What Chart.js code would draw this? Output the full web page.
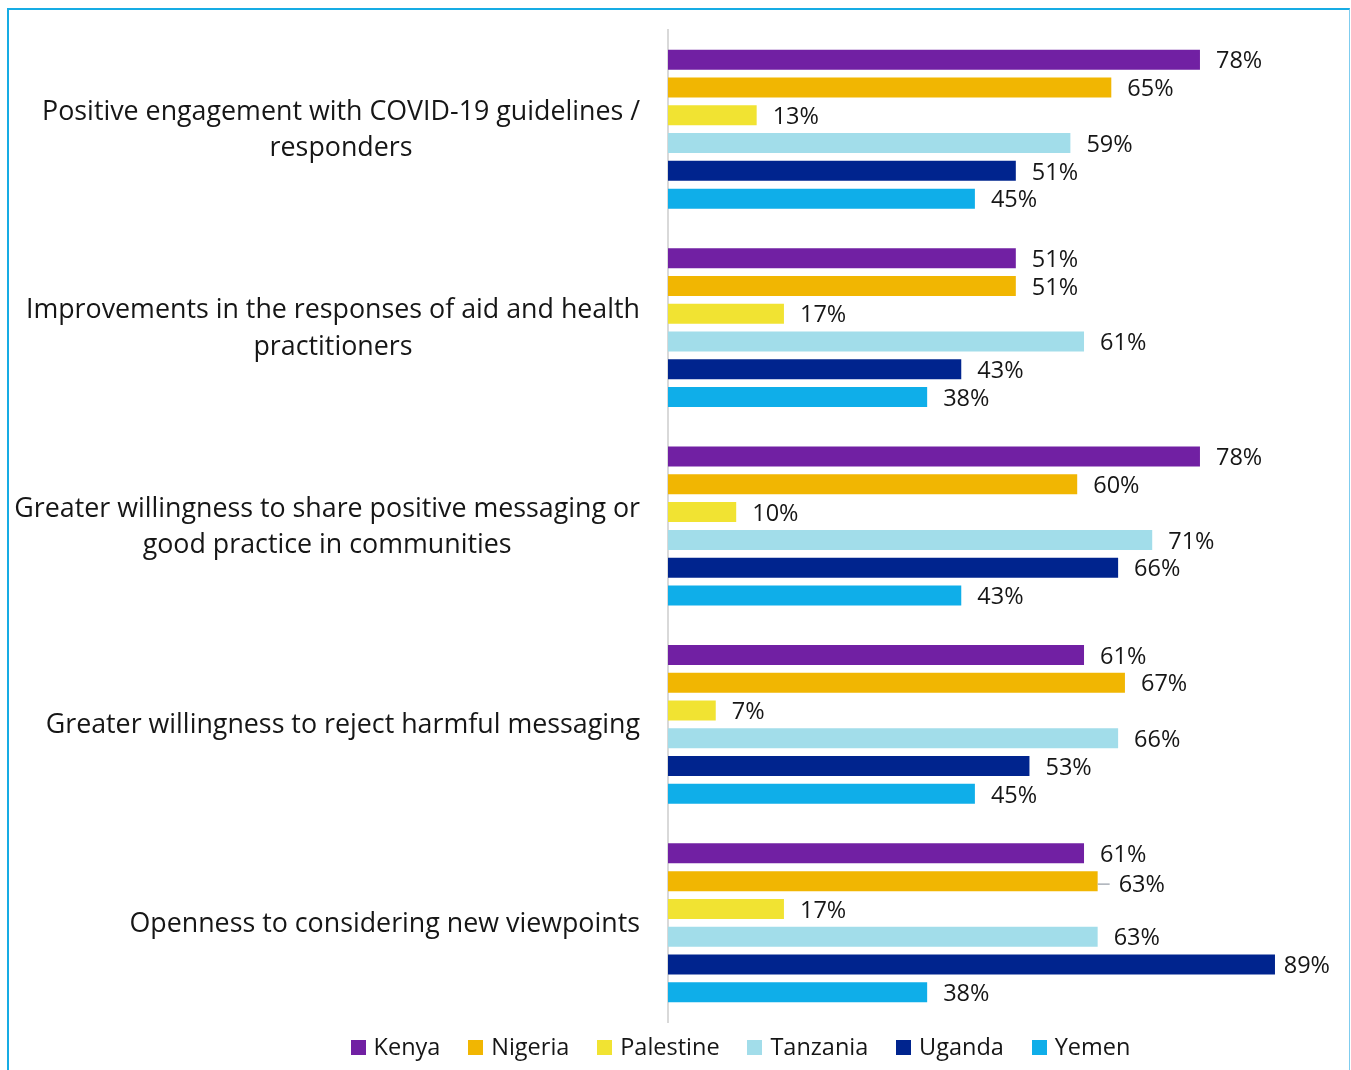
<!DOCTYPE html>
<html>
<head>
<meta charset="utf-8">
<title>Reported changes by country</title>
<script src="https://cdn.jsdelivr.net/npm/chart.js@4.4.1/dist/chart.umd.min.js"></script>
<style>
  html, body { margin: 0; padding: 0; background: #ffffff; overflow: hidden; }
  #wrap { position: relative; width: 1351px; height: 1070px; }
  #c { position: absolute; left: 0; top: 0; }
  #frame {
    position: absolute; left: 7px; top: 8px; width: 1343px; height: 1300px;
    box-sizing: border-box; border: 2px solid #17ACE4; border-right: 1px solid #7fcdef;
    pointer-events: none;
  }
</style>
</head>
<body>
<div id="wrap">
  <canvas id="c" width="1351" height="1070"></canvas>
  <div id="frame"></div>
</div>
<script>
// Outcome categories (each entry is the list of lines for a wrapped label)
const categories = [
  ['Positive engagement with COVID-19 guidelines /', 'responders'],
  ['Improvements in the responses of aid and health', 'practitioners'],
  ['Greater willingness to share positive messaging or', 'good practice in communities'],
  ['Greater willingness to reject harmful messaging'],
  ['Openness to considering new viewpoints']
];

// Countries (series names)
const countries = ['Kenya', 'Nigeria', 'Palestine', 'Tanzania', 'Uganda', 'Yemen'];

// Percentage of respondents, one value per category
const kenya     = [78, 51, 78, 61, 61];
const nigeria   = [65, 51, 60, 67, 63];
const palestine = [13, 17, 10, 7, 17];
const tanzania  = [59, 61, 71, 66, 63];
const uganda    = [51, 43, 66, 53, 89];
const yemen     = [45, 38, 43, 45, 38];

const seriesValues = [kenya, nigeria, palestine, tanzania, uganda, yemen];
const seriesColours = ['#7120A3', '#F1B602', '#F1E332', '#A2DDEA', '#00248E', '#0FAEE9'];

const FONT = "'Open Sans', 'Noto Sans', sans-serif";
const TEXT_COLOUR = '#161616';

// Wrapped category labels, right-aligned as a block, lines centred within the block
const categoryLabels = {
  id: 'categoryLabels',
  afterDraw(chart) {
    const { ctx } = chart;
    const y = chart.scales.y;
    const size = 26.8, lineH = 36.5, rightEdge = 640;
    ctx.save();
    ctx.font = `${size}px ${FONT}`;
    ctx.fillStyle = TEXT_COLOUR;
    ctx.textAlign = 'center';
    ctx.textBaseline = 'alphabetic';
    categories.forEach((lines, i) => {
      const cy = y.getPixelForValue(i);
      const widest = Math.max(...lines.map(l => ctx.measureText(l).width));
      const cx = rightEdge - widest / 2;
      lines.forEach((line, k) => {
        ctx.fillText(line, cx, cy + (k - (lines.length - 1) / 2) * lineH + 9);
      });
    });
    ctx.restore();
  }
};

// Value labels just past the end of each bar
const valueLabels = {
  id: 'valueLabels',
  afterDatasetsDraw(chart) {
    const { ctx } = chart;
    const size = 23.5, gap = 16, maxRight = 1330;
    ctx.save();
    ctx.font = `${size}px ${FONT}`;
    ctx.fillStyle = TEXT_COLOUR;
    ctx.textAlign = 'left';
    ctx.textBaseline = 'middle';
    chart.data.datasets.forEach((ds, di) => {
      const meta = chart.getDatasetMeta(di);
      meta.data.forEach((bar, i) => {
        const text = ds.data[i] + '%';
        const w = ctx.measureText(text).width;
        let x = bar.x + gap;
        let yy = bar.y + 2;
        if (x + w > maxRight) x = maxRight - w;
        // one label was pulled aside with a short leader line
        if (di === 1 && i === 4) {
          ctx.save();
          ctx.strokeStyle = '#A9AFB7';
          ctx.lineWidth = 1.5;
          ctx.beginPath();
          ctx.moveTo(bar.x, bar.y + 3);
          ctx.lineTo(bar.x + 12, bar.y + 3);
          ctx.stroke();
          ctx.restore();
          x += 5;
          yy += 2;
        }
        ctx.fillText(text, x, yy);
      });
    });
    ctx.restore();
  }
};

// Single-row legend with small square swatches
const legendRow = {
  id: 'legendRow',
  afterDraw(chart) {
    const { ctx } = chart;
    const size = 23.5, box = 15, textGap = 8, itemGap = 27.8, centreX = 740.5, midY = 1047.5;
    ctx.save();
    ctx.font = `${size}px ${FONT}`;
    const items = chart.data.datasets.map(ds => ({
      label: ds.label, colour: ds.backgroundColor, w: ctx.measureText(ds.label).width
    }));
    const total = items.reduce((s, it) => s + box + textGap + it.w, 0) + itemGap * (items.length - 1);
    let x = centreX - total / 2;
    ctx.textAlign = 'left';
    ctx.textBaseline = 'alphabetic';
    items.forEach(it => {
      ctx.fillStyle = it.colour;
      ctx.fillRect(Math.round(x), Math.round(midY - box / 2), box, box);
      ctx.fillStyle = TEXT_COLOUR;
      ctx.fillText(it.label, x + box + textGap, midY + 7.5);
      x += box + textGap + it.w + itemGap;
    });
    ctx.restore();
  }
};

new Chart(document.getElementById('c'), {
  type: 'bar',
  data: {
    labels: categories.map(l => l.join(' ')),
    datasets: countries.map((name, k) => ({
      label: name,
      data: seriesValues[k],
      backgroundColor: seriesColours[k],
      borderWidth: 0,
      categoryPercentage: 0.84,
      barPercentage: 0.72
    }))
  },
  options: {
    indexAxis: 'y',
    responsive: false,
    animation: false,
    devicePixelRatio: 1,
    layout: { padding: { top: 30, bottom: 48, left: 0, right: 1 } },
    plugins: {
      legend: { display: false },
      tooltip: { enabled: false },
      title: { display: false }
    },
    scales: {
      x: {
        display: false,
        min: 0,
        max: 100
      },
      y: {
        display: true,
        ticks: { display: false },
        grid: { display: false },
        border: { display: true, color: '#D9D9D9', width: 2 },
        afterFit(scale) { scale.width = 668; }
      }
    }
  },
  plugins: [categoryLabels, valueLabels, legendRow]
});
</script>
</body>
</html>
